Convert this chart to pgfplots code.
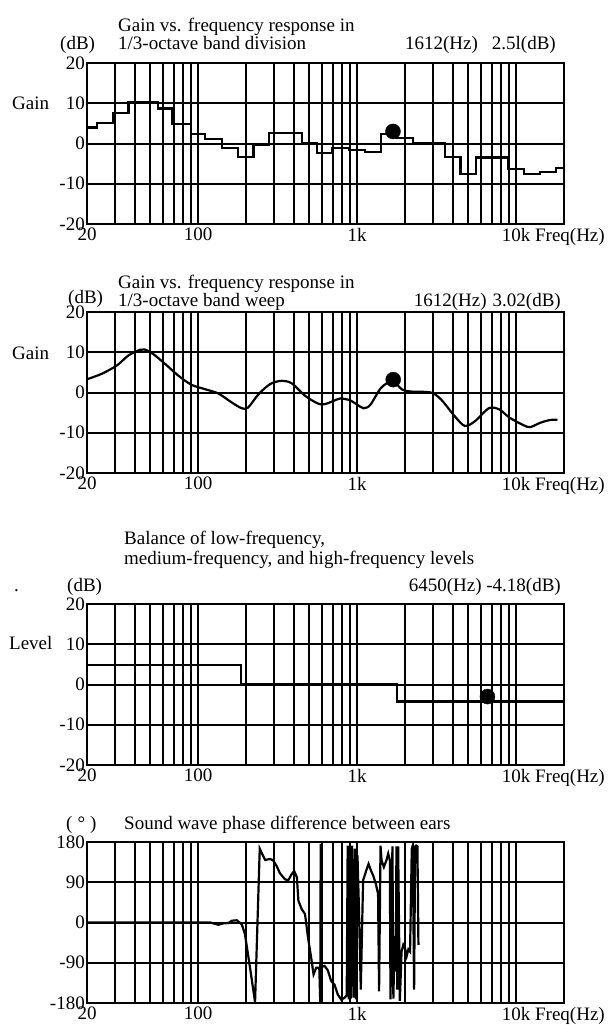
\documentclass[border=0pt]{standalone}
\usepackage{fontspec}
\setmainfont{Liberation Serif}
\usepackage{pgfplots}
\pgfplotsset{compat=1.18}

% common look of the four panels
\pgfplotsset{
  respanel/.style={
    scale only axis, width=477pt, height=161pt,
    anchor=north west,
    xmin=20, xmax=20000,
    xtick={20,100,1000,10000},
    xticklabels={20,100,1k,10k\rlap{ Freq(Hz)}},
    minor xtick={30,40,50,60,70,80,90,200,300,400,500,600,700,800,900,2000,3000,4000,5000,6000,7000,8000,9000},
    xmajorgrids, xminorgrids, ymajorgrids,
    major grid style={black, line width=2pt},
    minor grid style={black, line width=2pt},
    axis line style={line width=2pt},
    tick style={draw=none},
    xticklabel style={inner sep=0pt, yshift=-4pt},
    yticklabel style={inner sep=2pt},
  },
  dbscale/.style={
    ymin=-20, ymax=20,
    ytick={-20,-10,0,10,20},
    yticklabels={-20,-10,0,10,20},
  },
}
\tikzset{lbl/.style={inner sep=0pt, anchor=base west}}

% 1/3-octave band steps: start of band, gain
\pgfplotstableread{
f      g
20     4
23     5
29     7.5
36.5   10.4
56     8.7
69     4.8
90     2.4
111    1.2
141    -1.1
178    -3.4
223    -0.3
280    2.6
450    0.1
560    -2.3
700    -1.2
890    -1.6
1120   -2.1
1420   2.3
1760   1.3
2240   0
3550   -3.4
4470   -7.6
5620   -3.5
8910   -6.3
11220  -7.5
14130  -7.1
17780  -6.1
20000  -6.1
}\bandtab

% swept response
\pgfplotstableread{
f      g
20     3.3
24.6   4.6
30.8   6.7
36.4   9.2
43     10.6
46     10.7
52     9.6
62     7.1
75     4.2
91     1.9
111    0.8
134    -0.25
163    -2.5
188    -3.9
206    -3.75
240    -0.4
284    2.1
335    2.9
389    2.25
470    -0.8
567    -2.75
624    -2.9
700    -2.2
780    -1.5
896    -1.9
1000   -3.0
1096   -3.9
1208   -3.1
1391   0.8
1529   2.25
1686   2.9
1908   0.8
2165   0.25
2900   0
3365   -1.7
4090   -5.8
4754   -8.3
5520   -7.1
6740   -3.9
7830   -4.2
9090   -6.25
11100  -8.1
12250  -8.6
14220  -7.5
16500  -6.8
18200  -6.8
}\sweeptab

% low / mid / high balance
\pgfplotstableread{
f      g
20     4.9
186    0.1
1780   -4.2
20000  -4.2
}\balancetab

% phase difference between ears
\pgfplotstableread{
f      p
20     0
110    0
119    0
134    -5
144    -2
155    -1
163    4
175    5
188    -4
197    -26
212    -101
228    -178
244    165
252    154
264    140
284    142
296    139
311    127
327    110
351    97
368    94
389    109
402    115
418    101
427    49
448    30
470    19
491    -34
514    -79
532    -116
553    -101
578    -101
586    -178
590    176
594    -100
624    -97
654    -107
687    -131
721    -139
756    -161
792    -172
830    -169
860    -163
872    172
884    -172
898    168
912    -170
928    172
948    -168
965    165
985    -172
1005   150
1025   40
1054   -150
1090   94
1140   116
1180   131
1222   116
1262   105
1311   86
1354   64
1374   -154
1403   172
1424   139
1473   124
1531   140
1568   154
1606   139
1621   -172
1667   170
1690   -170
1720   -30
1750   -110
1767   170
1790   -150
1811   170
1856   -175
1903   -65
1950   -50
2000   -58
2049   -75
2100   -60
2152   -65
2206   165
2238   172
2282   -150
2315   170
2349   172
2394   170
2429   -50
}\phasetab

\begin{document}
\fontsize{19}{22}\selectfont
\begin{tikzpicture}
\useasboundingbox (0pt,0pt) rectangle (608pt,-1025pt);

% ---- panel 1
\node[lbl] at (118pt,-32pt) {Gain vs. frequency response in};
\node[lbl] at (118pt,-50pt) {1/3-octave band division};
\node[lbl] at (60pt,-50pt) {(dB)};
\node[lbl, anchor=base east] at (556pt,-50pt) {1612(Hz)\hspace{14pt}2.5l(dB)};
\node[lbl] at (12pt,-109pt) {Gain};
\begin{semilogxaxis}[respanel, dbscale, at={(87pt,-63pt)}]
  \addplot[black, line width=2.2pt, const plot] table[x=f, y=g] {\bandtab};
  \addplot[only marks, mark=*, mark size=7.5pt, black] coordinates {(1680,3.0)};
\end{semilogxaxis}

% ---- panel 2
\node[lbl] at (118pt,-288pt) {Gain vs. frequency response in};
\node[lbl] at (118pt,-306pt) {1/3-octave band weep};
\node[lbl] at (68pt,-303pt) {(dB)};
\node[lbl, anchor=base east] at (561pt,-306pt) {1612(Hz)\hspace{6pt}3.02(dB)};
\node[lbl] at (12pt,-359pt) {Gain};
\begin{semilogxaxis}[respanel, dbscale, at={(87pt,-312pt)}]
  \addplot[black, line width=2.2pt, smooth] table[x=f, y=g] {\sweeptab};
  \addplot[only marks, mark=*, mark size=7.5pt, black] coordinates {(1686,3.2)};
\end{semilogxaxis}

% ---- panel 3
\node[lbl] at (124pt,-544pt) {Balance of low-frequency,};
\node[lbl] at (124pt,-564pt) {medium-frequency, and high-frequency levels};
\node[lbl] at (14pt,-591pt) {.};
\node[lbl] at (67pt,-591pt) {(dB)};
\node[lbl, anchor=base east] at (561pt,-591pt) {6450(Hz) -4.18(dB)};
\node[lbl] at (9pt,-649pt) {Level};
\begin{semilogxaxis}[respanel, dbscale, at={(87pt,-604pt)}]
  \addplot[black, line width=2.2pt, const plot] table[x=f, y=g] {\balancetab};
  \addplot[only marks, mark=*, mark size=7.5pt, black] coordinates {(6600,-3.0)};
\end{semilogxaxis}

% ---- panel 4
\node[lbl] at (66pt,-829pt) {(\hspace{5pt}°\hspace{5pt})};
\node[lbl] at (124pt,-829pt) {Sound wave phase difference between ears};
\begin{semilogxaxis}[respanel, at={(87pt,-842pt)},
    ymin=-180, ymax=180,
    ytick={-180,-90,0,90,180},
    yticklabels={-180,-90,0,90,180}]
  \addplot[black, line width=2.2pt] table[x=f, y=p] {\phasetab};
\end{semilogxaxis}
\end{tikzpicture}
\end{document}
